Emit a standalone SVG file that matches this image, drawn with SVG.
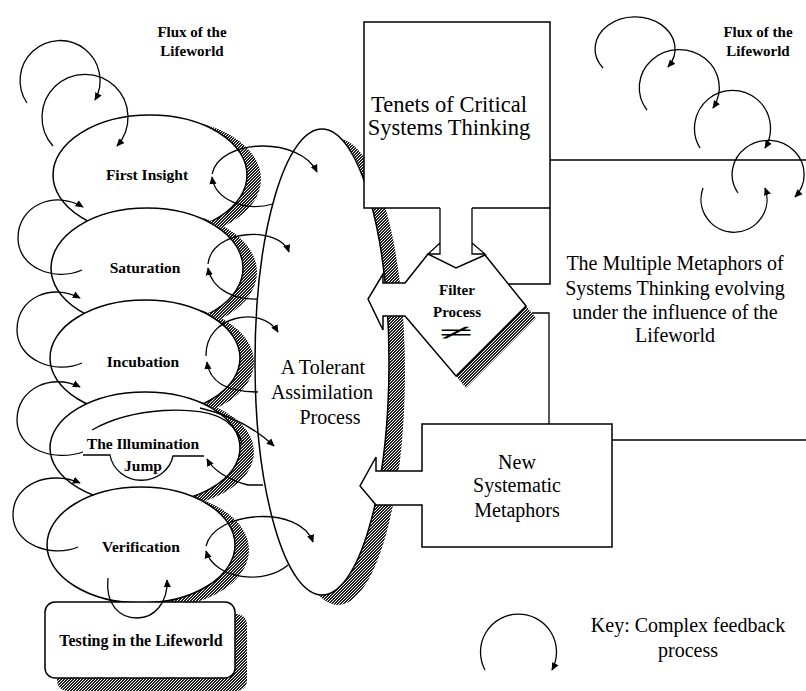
<svg xmlns="http://www.w3.org/2000/svg" width="806" height="691" viewBox="0 0 806 691">
<defs>
<pattern id="hatch" width="3" height="3" patternUnits="userSpaceOnUse">
<rect width="3" height="3" fill="#222"/><rect x="0" y="0" width="1" height="1" fill="#fff"/><rect x="2" y="1" width="1" height="1" fill="#fff"/><rect x="1" y="2" width="1" height="1" fill="#fff"/>
</pattern>
<marker id="ah" viewBox="0 0 10 10" refX="9" refY="5" markerWidth="8" markerHeight="8" orient="auto" markerUnits="userSpaceOnUse">
<path d="M0,0.5 L10,5 L0,9.5 z" fill="#000"/>
</marker>
<style>
.ln{fill:none;stroke:#000;stroke-width:1.3}
.arr{fill:none;stroke:#000;stroke-width:1.3;marker-end:url(#ah)}
.shape{fill:#fff;stroke:#000;stroke-width:1.5}
.shadow{fill:url(#hatch);stroke:none}
.lbl{font-family:"Liberation Serif","Times New Roman",serif;font-weight:bold;font-size:15.5px;text-anchor:middle;fill:#000}
.big{font-family:"Liberation Serif","Times New Roman",serif;font-size:20px;text-anchor:middle;fill:#000}
</style>
</defs>
<rect width="806" height="691" fill="#fff"/>

<g id="assimilation">
<ellipse class="shadow" cx="338" cy="372" rx="67" ry="233"/>
<ellipse class="shape" cx="322" cy="362" rx="67" ry="233"/>
<text class="big" x="323" y="374">A Tolerant</text>
<text class="big" x="322" y="399">Assimilation</text>
<text class="big" x="330" y="424">Process</text>
</g>

<g id="first-insight">
<ellipse class="shadow" cx="164" cy="179" rx="97" ry="60"/>
<ellipse class="shape" cx="150" cy="175" rx="97" ry="60"/>
<text class="lbl" x="147" y="180">First Insight</text>
</g>
<g id="saturation">
<ellipse class="shadow" cx="161" cy="272" rx="96" ry="60"/>
<ellipse class="shape" cx="147" cy="268" rx="96" ry="60"/>
<text class="lbl" x="145" y="273">Saturation</text>
</g>
<g id="incubation">
<ellipse class="shadow" cx="159" cy="362" rx="95" ry="58"/>
<ellipse class="shape" cx="145" cy="358" rx="95" ry="58"/>
<text class="lbl" x="143" y="367">Incubation</text>
</g>
<g id="illumination">
<ellipse class="shadow" cx="159" cy="452" rx="95" ry="56"/>
<ellipse class="shape" cx="145" cy="448" rx="95" ry="56"/>
<path class="ln" d="M83,455 H110 A32,30 0 0 0 173,456 H204"/>
<text class="lbl" x="143" y="449">The Illumination</text>
<text class="lbl" x="143" y="471">Jump</text>
</g>
<g id="verification">
<ellipse class="shadow" cx="155" cy="550" rx="94" ry="58"/>
<ellipse class="shape" cx="141" cy="545" rx="94" ry="58"/>
<text class="lbl" x="141" y="552">Verification</text>
</g>
<g id="testing">
<rect class="shadow" x="57" y="614" width="190" height="77" rx="10"/>
<rect class="shape" x="45" y="602" width="190" height="76" rx="10"/>
<text class="lbl" x="141" y="646" style="font-size:16px">Testing in the Lifeworld</text>
</g>

<g id="tenets">
<rect x="364" y="22" width="186" height="186" fill="#fff"/>
<path class="ln" style="stroke-width:1.5" d="M440,208 H364 V22 H550 V284 H508 M472,208 H550"/>
<text class="big" x="449" y="112" style="font-size:22.5px">Tenets of Critical</text>
<text class="big" x="449" y="135" style="font-size:22.5px">Systems Thinking</text>
</g>

<g id="filter">
<polygon class="shadow" points="526,306 456,376 466,388 536,318"/>
<path class="shape" d="M405,283 L428,254 L456,268 L485,255 L526,306 L456,376 L405,316 L383,316 L383,330 L368,299 L383,274 L383,283 Z"/>
<path class="ln" d="M440,208 V254 H428 L440,243 M472,208 V254 H485 L472,243"/>
<text class="lbl" x="457" y="295" style="font-size:15px">Filter</text>
<text class="lbl" x="457" y="317" style="font-size:15px">Process</text>
<text class="lbl" x="456" y="340" style="font-size:22px" textLength="34" lengthAdjust="spacingAndGlyphs">≠</text>
</g>

<g id="new-metaphors">
<path class="shape" d="M422,471 V424 H612 V547 H422 V505 H376 L360,486 L376,457 V471 Z"/>
<text class="big" x="517" y="469">New</text>
<text class="big" x="517" y="492">Systematic</text>
<text class="big" x="517" y="517">Metaphors</text>
</g>

<g id="flux-left-label">
<text class="lbl" x="192" y="37" style="font-size:15px">Flux of the</text>
<text class="lbl" x="192" y="56" style="font-size:15px">Lifeworld</text>
</g>
<g id="flux-right-label">
<text class="lbl" x="758" y="37" style="font-size:15px">Flux of the</text>
<text class="lbl" x="758" y="56" style="font-size:15px">Lifeworld</text>
</g>
<g id="multiple-metaphors">
<text class="big" x="675" y="270">The Multiple Metaphors of</text>
<text class="big" x="675" y="295">Systems Thinking evolving</text>
<text class="big" x="675" y="319">under the influence of the</text>
<text class="big" x="675" y="342">Lifeworld</text>
</g>
<g id="key">
<text class="big" x="688" y="632">Key: Complex feedback</text>
<text class="big" x="688" y="657">process</text>
</g>

<g id="connectors">
<path class="ln" d="M550,160 H806 M612,440 H806 M532,313 H549 V424"/>
<path class="arr" d="M27,103 A40,40 0 1 1 95,100"/>
<path class="arr" d="M53,146 A43,43 0 1 1 117,146"/>
<path class="arr" d="M82,270 C55,282 18,268 18,238 C18,205 55,190 83,207"/>
<path class="arr" d="M82,363 C55,375 17,360 17,330 C17,297 52,283 80,298"/>
<path class="arr" d="M83,452 C55,462 17,450 17,420 C17,388 52,373 80,387"/>
<path class="arr" d="M78,547 C52,558 13,545 13,515 C13,483 50,470 80,483"/>
<path class="arr" d="M273,204 C245,212 215,200 212,177"/>
<path class="arr" d="M212,174 C220,138 300,136 317,172"/>
<path class="arr" d="M258,299 C235,300 212,290 208,268"/>
<path class="arr" d="M208,264 C212,228 280,226 289,252"/>
<path class="arr" d="M258,392 C232,392 210,385 207,362"/>
<path class="arr" d="M206,356 C205,315 262,305 278,332"/>
<path class="arr" d="M263,485 H248 C228,480 213,470 207,459"/>
<path class="arr" d="M200,408 C230,415 255,428 274,446"/>
<path class="ln" d="M92,430 C130,408 200,403 226,421 C236,429 241,437 242,444"/>
<path class="arr" d="M288,565 C265,585 215,580 206,551"/>
<path class="arr" d="M206,546 C215,510 300,505 313,542"/>
<path class="arr" d="M108,578 C105,605 120,618 137,618 C155,618 168,602 167,580"/>
<path class="arr" d="M603,68 A40,32 0 1 1 668,67"/>
<path class="arr" d="M647,110 A40,38 0 1 1 713,108"/>
<path class="arr" d="M700,148 A38,38 0 1 1 765,148"/>
<path class="arr" d="M738,193 A36,34 0 1 1 795,197"/>
<path class="arr" d="M703,188 A33,33 0 1 0 765,188"/>
<path class="arr" d="M485,670 A38,38 0 1 1 552,670"/>
</g>
</svg>
